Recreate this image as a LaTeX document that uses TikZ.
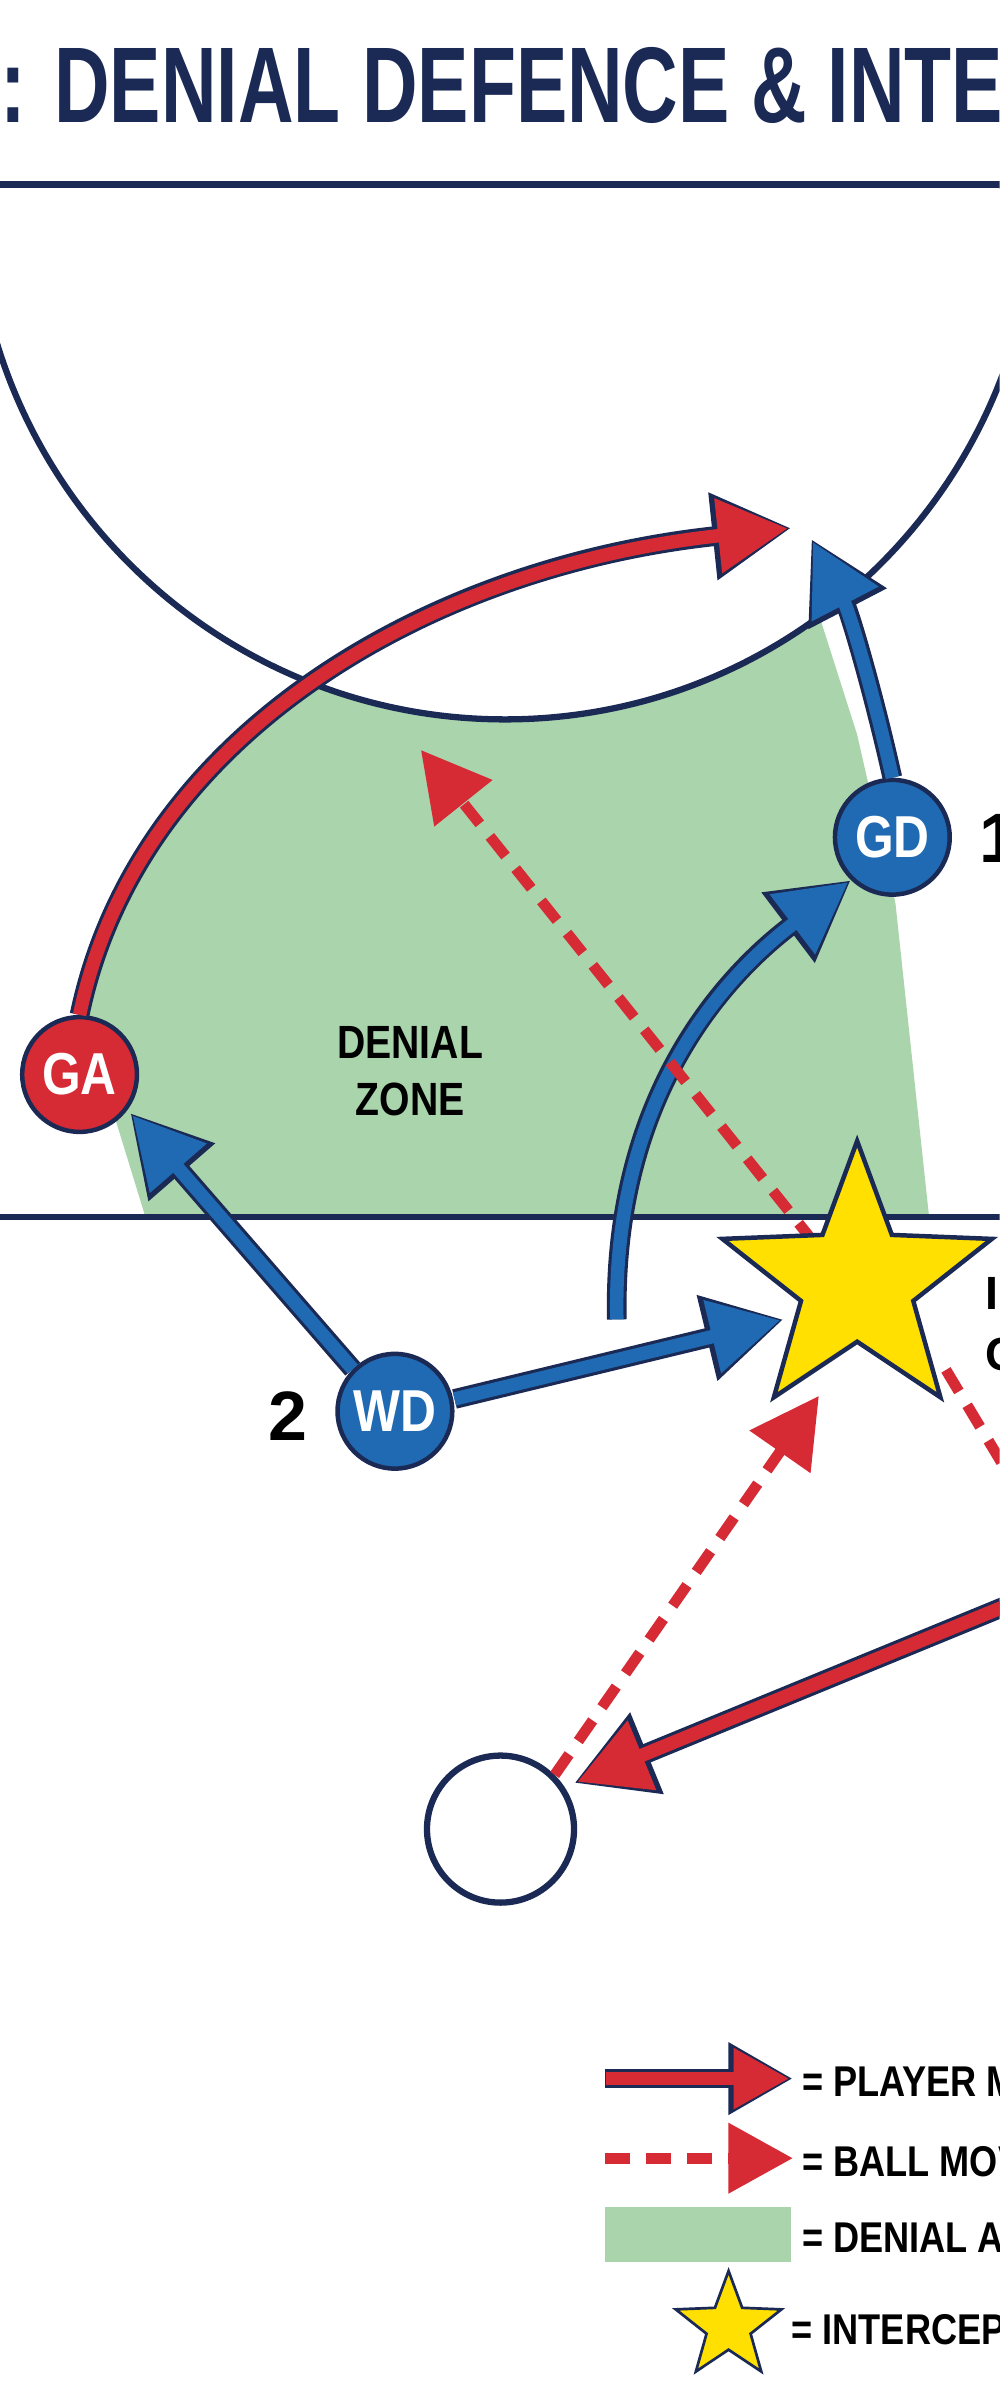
\documentclass[tikz,border=0pt]{standalone}
\usepackage{fontspec}
\setmainfont{Liberation Sans}
\usetikzlibrary{arrows.meta,shapes.geometric}
\definecolor{navy}{HTML}{1B2A55}
\definecolor{pred}{HTML}{D62A35}
\definecolor{pblue}{HTML}{1F6AB3}
\definecolor{zone}{HTML}{A9D4AC}
\definecolor{staryel}{HTML}{FFE000}
\newcommand{\cz}[1]{\scalebox{0.84}[1]{#1}}
\tikzset{
  outerA/.style={navy,line width=11pt,-{Triangle[length=44pt,width=46pt]}},
  innerR/.style={pred,line width=7.5pt,-{Triangle[length=39pt,width=40pt]}},
  innerB/.style={pblue,line width=7.5pt,-{Triangle[length=39pt,width=40pt]}},
  ballA/.style={pred,line width=6pt,dash pattern=on 14pt off 9pt,-{Triangle[length=38pt,width=40pt]}},
  player/.style={circle,draw=navy,line width=2.5pt,minimum size=64pt,inner sep=0pt,text=white,font=\bfseries\fontsize{33}{33}\selectfont},
  lbl/.style={font=\bfseries\fontsize{24}{26}\selectfont,text=black,anchor=west},
  ystar/.style={shape=star,star points=5,star point ratio=2.4,fill=staryel,draw=navy,inner sep=0pt},
}
\begin{document}
\begin{tikzpicture}[x=0.03cm,y=-0.03cm]
\useasboundingbox (0,0) rectangle (653,1568);
\clip (0,0) rectangle (653,1568);
\fill[white] (0,0) rectangle (653,1568);
% title
\node[anchor=base west,text=navy,font=\bfseries\fontsize{60}{60}\selectfont,inner sep=0pt] (title) at (0,80) {\scalebox{0.715}[1]{: DENIAL DEFENCE \& INTERCEPTION}};
\draw[navy,line width=4.5pt] (0,121) coordinate (tl) -- (653,121) coordinate (tr);
% zone
\fill[zone] (55,668) .. controls (90,480) and (280,370) .. (517,345) -- (560,480) -- (585,590) -- (607,795) -- (95,795) -- (75,730) -- cycle;
\begin{scope}
\clip (0,123) rectangle (653,800);
\fill[white] (330,123) circle (347);
\draw[navy,line width=3.5pt] (330,123) circle (347);
\end{scope}
\draw[navy,line width=3.5pt] (0,795) coordinate (ml) -- (653,795) coordinate (mr);
\node[font=\bfseries\fontsize{26}{32}\selectfont,align=center] (dz) at (268,700) {\cz{DENIAL}\\\cz{ZONE}};
% nodes
\node[player,fill=pred] (GA) at (52,702) {\cz{GA}};
\node[player,fill=pblue] (GD) at (583,547) {\cz{GD}};
\node[player,fill=pblue] (WD) at (258,922) {\cz{WD}};
\node[circle,minimum size=82pt,draw=navy,line width=3.5pt,fill=white] (E) at (327,1195) {};
\node[font=\bfseries\fontsize{39}{40}\selectfont] (n2) at (188,925) {2};
\node[font=\bfseries\fontsize{39}{40}\selectfont,anchor=west] (n1) at (636,548) {1};
\node[font=\bfseries\fontsize{26}{30}\selectfont,anchor=west] (ti) at (640,845) {I};
\node[font=\bfseries\fontsize{26}{30}\selectfont,anchor=west] (tc) at (640,885) {C};
\coordinate (redtip) at (517,345);
\coordinate (gdtip) at (530,352);
\coordinate (cvs) at (403,862);
\coordinate (cvt) at (556,575);
\coordinate (balltip) at (275,490);
\coordinate (bs1) at (532,812);
\coordinate (bs2) at (618,895);
\coordinate (bs2e) at (660,965);
\coordinate (rs) at (660,1048);
\coordinate (rt) at (375,1165);
\coordinate (wdga) at (85,727);
\coordinate (wdst) at (512,862);
\coordinate (btip) at (535,912);
% red arc
\draw[outerA] (GA.north) .. controls (90,480) and (280,370) .. (redtip);
\draw[innerR,shorten >=2pt] (GA.north) .. controls (90,480) and (280,370) .. (redtip);
% blue GD up
\draw[outerA] (GD.north) .. controls (570,450) and (555,400) .. (gdtip);
\draw[innerB,shorten >=2pt] (GD.north) .. controls (570,450) and (555,400) .. (gdtip);
% blue curve
\draw[outerA] (cvs) .. controls (400,720) and (470,640) .. (cvt);
\draw[innerB,shorten >=2pt] (cvs) .. controls (400,720) and (470,640) .. (cvt);
% ball to zone
\draw[ballA] (bs1) -- (balltip);
\draw[pred,line width=6pt,dash pattern=on 14pt off 9pt] (bs2) -- (bs2e);
% WD arrows
\draw[outerA] (WD.north west) -- (wdga);
\draw[innerB,shorten >=2pt] (WD.north west) -- (wdga);
\draw[outerA] (WD.east) ++(0,-8) -- (wdst);
\draw[innerB,shorten >=2pt] (WD.east) ++(0,-8) -- (wdst);
% lower
\draw[ballA] (E.north east) -- (btip);
\draw[outerA] (rs) -- (rt);
\draw[innerR,shorten >=2pt] (rs) -- (rt);
\node[ystar,minimum size=158pt,line width=2.5pt] (ST) at (560,838) {};
% legend
\coordinate (l1a) at (395,1358); \coordinate (l1b) at (518,1358);
\coordinate (l2a) at (395,1410); \coordinate (l2b) at (518,1410);
\draw[navy,line width=11pt,-{Triangle[length=36pt,width=38pt]}] (l1a) -- (l1b);
\draw[pred,line width=7.5pt,-{Triangle[length=31pt,width=32pt]},shorten >=2pt] ([xshift=1pt]l1a) -- (l1b);
\draw[pred,line width=6pt,dash pattern=on 14pt off 9pt,-{Triangle[length=36pt,width=38pt]}] (l2a) -- (l2b);
\fill[zone] (395,1442) rectangle (517,1478);
\node[ystar,minimum size=62pt,line width=1.5pt] (LS) at (476,1520) {};
\node[lbl] (L1) at (520,1360) {\cz{= PLAYER MOVEMENT}};
\node[lbl] (L2) at (520,1412) {\cz{= BALL MOVEMENT}};
\node[lbl] (L3) at (520,1462) {\cz{= DENIAL AREA}};
\node[lbl] (L4) at (513,1522) {\cz{= INTERCEPTION}};
\end{tikzpicture}
\end{document}
